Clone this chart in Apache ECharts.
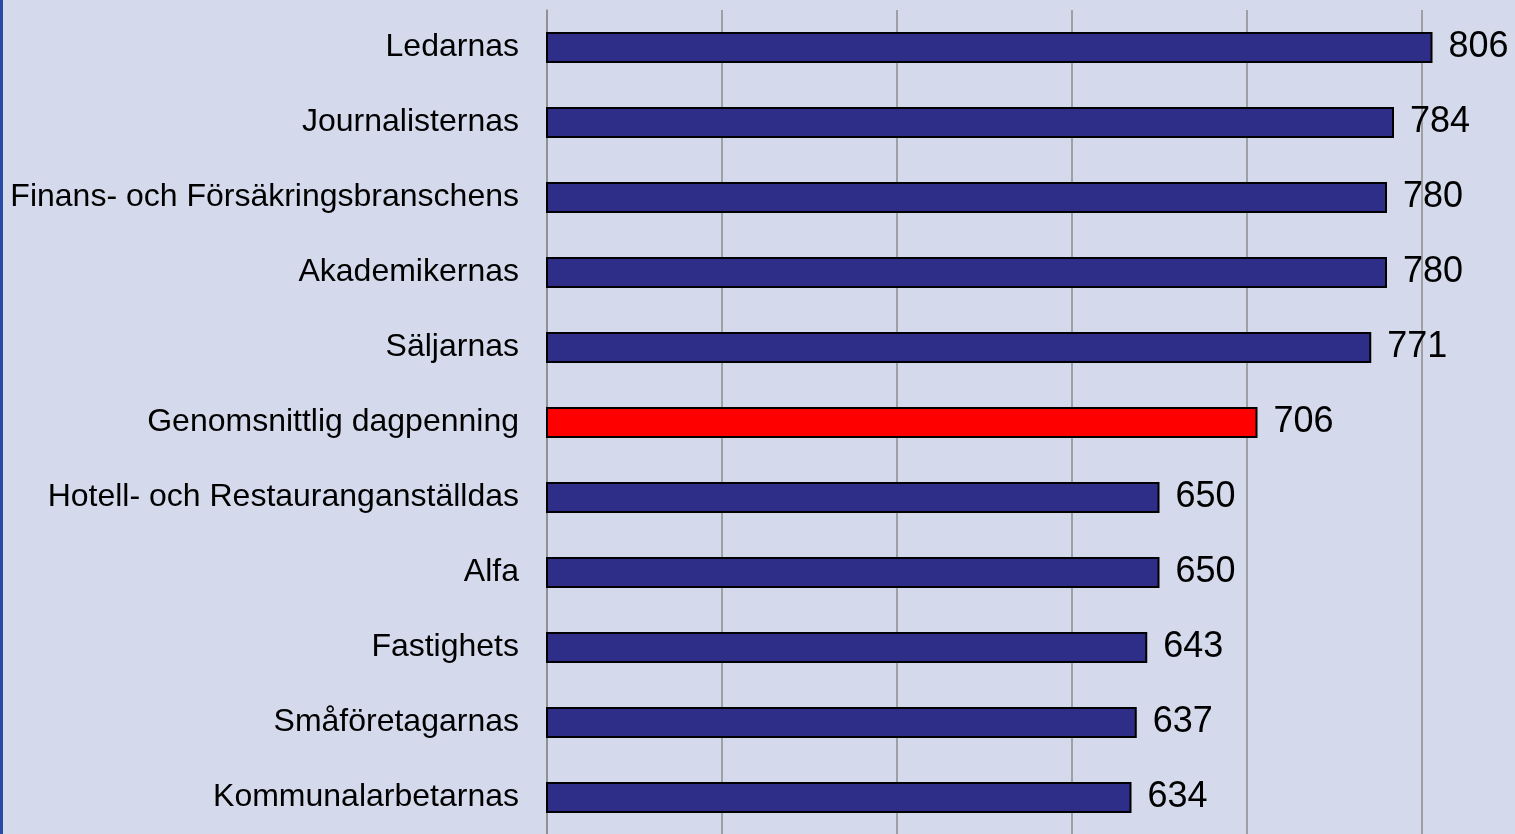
<!DOCTYPE html>
<html>
<head>
<meta charset="utf-8">
<script src="https://cdn.jsdelivr.net/npm/echarts@6/dist/echarts.min.js"></script>
<style>
  html, body { margin: 0; padding: 0; background: #d4d9eb; }
  #main { width: 1515px; height: 834px; }
</style>
</head>
<body>
<div id="main"></div>
<script>
// kategorier uppifrån och ned
var kassor = ['Ledarnas', 'Journalisternas', 'Finans- och Försäkringsbranschens', 'Akademikernas',
    'Säljarnas', 'Genomsnittlig dagpenning', 'Hotell- och Restauranganställdas', 'Alfa',
    'Fastighets', 'Småföretagarnas', 'Kommunalarbetarnas'];
var dagpenning = [806, 784, 780, 780, 771, 706, 650, 650, 643, 637, 634];
var markerad = 'Genomsnittlig dagpenning';

var myChart = echarts.init(document.getElementById('main'));

var data = [];
for (var i = 0; i < kassor.length; i++) {
    data.push({
        value: dagpenning[i],
        itemStyle: { color: kassor[i] == markerad ? '#ff0000' : '#2e2e88' }
    });
}

// axeln går till 900, men bilden är beskuren strax efter 800
option = {
    backgroundColor: '#d4d9eb',
    animation: false,
    graphic: [{
        type: 'rect',
        left: 0, top: 0,
        shape: { width: 3, height: 834 },
        style: { fill: '#2a4aa8' }
    }],
    grid: { left: 547, top: 10, right: -82, bottom: -1, outerBoundsMode: 'none' },
    xAxis: {
        type: 'value',
        min: 300,
        max: 900,
        interval: 100,
        axisLine: { show: false },
        axisTick: { show: false },
        axisLabel: { show: false },
        splitLine: { lineStyle: { color: '#8c8c8c', width: 1.5 } }
    },
    yAxis: {
        type: 'category',
        inverse: true,
        data: kassor,
        axisLine: { lineStyle: { color: '#8c8c8c', width: 1.5 } },
        axisTick: { length: 8, lineStyle: { color: '#8c8c8c', width: 1.5 } },
        axisLabel: {
            color: '#000',
            fontFamily: 'Liberation Sans, Arial, sans-serif',
            fontSize: 32,
            margin: 28
        }
    },
    series: [{
        type: 'bar',
        data: data,
        barWidth: 31,
        itemStyle: { borderColor: '#000', borderWidth: 2 },
        label: {
            show: true,
            position: 'right',
            distance: 16,
            color: '#000',
            fontFamily: 'Liberation Sans, Arial, sans-serif',
            fontSize: 36
        }
    }]
};

myChart.setOption(option);
</script>
</body>
</html>
